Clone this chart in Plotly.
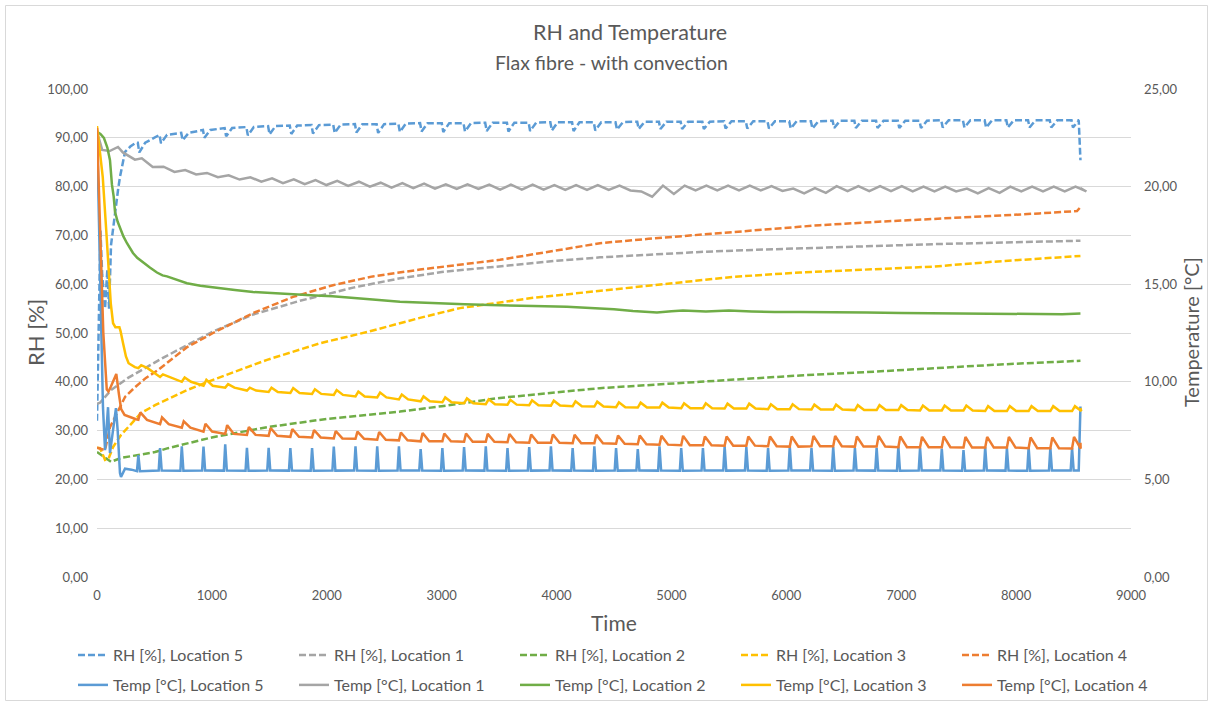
import plotly.graph_objects as go

# ---- RH series (left axis, %) : smooth curves -------------------------------
rh1_t = [0, 26, 122, 270, 418, 574, 783, 1010, 1360, 1767, 2230, 2637, 3000, 3507,
         4000, 4378, 4800, 5248, 5800, 6292, 6800, 7276, 7800, 8200, 8560]
rh1_v = [35.5, 35.7, 38.3, 40.8, 42.8, 44.9, 47.5, 50.3, 53.8, 56.6, 59.3, 61.2, 62.5, 63.7,
         64.8, 65.5, 66.1, 66.6, 67.1, 67.5, 67.9, 68.2, 68.5, 68.7, 68.9]

rh2_t = [0, 96, 122, 209, 357, 505, 618, 1000, 1480, 2000, 2637, 3000, 3507, 4378,
         5248, 6118, 6700, 7276, 7900, 8560]
rh2_v = [25.6, 24.0, 23.6, 24.4, 25.0, 25.6, 26.4, 28.6, 30.7, 32.4, 33.9, 35.0, 36.7, 38.7,
         40.0, 41.3, 42.0, 42.8, 43.6, 44.3]

rh3_t = [0, 26, 70, 100, 139, 209, 287, 383, 505, 600, 783, 1010, 1480, 1941, 2350,
         2811, 3159, 3795, 4665, 5535, 6118, 7000, 7276, 7800, 8300, 8560]
rh3_v = [26.5, 26.4, 24.0, 24.2, 26.6, 29.1, 31.1, 33.6, 35.2, 36.3, 38.3, 40.4, 44.5, 47.9, 50.2,
         53.1, 55.1, 57.2, 59.4, 61.5, 62.4, 63.3, 63.6, 64.6, 65.3, 65.8]

rh4_t = [0, 40, 70, 113, 183, 244, 331, 426, 531, 609, 783, 1010, 1360, 1706, 2054,
         2400, 2811, 3507, 4000, 4378, 4800, 5248, 5800, 6292, 6800, 7276, 7800,
         8200, 8440, 8530, 8560]
rh4_v = [26.5, 26.2, 26.0, 30.7, 34.2, 36.9, 38.9, 40.8, 42.4, 43.8, 47.1, 50.0, 54.1, 57.4, 59.8,
         61.6, 63.0, 65.0, 66.9, 68.4, 69.3, 70.1, 71.2, 72.1, 72.8, 73.3, 74.0,
         74.5, 74.8, 75.0, 75.8]

# ---- convection cycles: time of each heating pulse --------------------------
cycle_t = [360, 549, 738, 927, 1116, 1305, 1494, 1683, 1872, 2061, 2250,
           2439, 2628, 2817, 3006, 3195, 3384, 3573, 3762, 3951, 4140, 4329,
           4518, 4707, 4896, 5085, 5274, 5463, 5652, 5841, 6030, 6219, 6408,
           6597, 6786, 6975, 7164, 7353, 7542, 7731, 7920, 8109, 8298, 8487]

# RH location 5: start-up, level before each pulse, dip value in each pulse, end
rh5_head_t = [0, 10, 18, 30, 45, 70, 90, 105, 122, 157, 183, 200, 215, 244, 290, 340]
rh5_head_v = [32.0, 46.0, 62.0, 71.0, 62.0, 55.0, 63.0, 55.0, 68.0, 75.0, 79.3, 82.0, 84.0,
              87.1, 88.2, 89.0]
rh5_base = [89.0, 90.6, 91.0, 91.6, 92.0, 92.2, 92.4, 92.5, 92.6, 92.7, 92.8,
            92.8, 92.9, 93.0, 93.0, 93.0, 93.1, 93.1, 93.1, 93.2, 93.2, 93.2,
            93.2, 93.3, 93.3, 93.3, 93.3, 93.4, 93.4, 93.4, 93.4, 93.4, 93.5,
            93.5, 93.5, 93.5, 93.5, 93.6, 93.6, 93.6, 93.6, 93.6, 93.6, 93.6]
rh5_dip = [87.0, 88.9, 89.5, 90.0, 90.3, 90.5, 90.7, 90.8, 90.9, 91.0, 91.1,
           91.0, 91.2, 91.3, 91.2, 91.3, 91.4, 91.3, 91.4, 91.5, 91.4, 91.5,
           91.7, 91.8, 91.8, 91.8, 91.8, 91.9, 91.9, 91.9, 91.9, 91.9, 92.0,
           92.0, 92.0, 92.0, 92.0, 92.1, 92.1, 92.1, 92.1, 92.1, 92.1, 92.1]
rh5_tail_t = [8545, 8560]
rh5_tail_v = [93.6, 85.4]

# ---- temperature series (right axis, deg C) ----------------------------------
temp5_head_t = [0, 20, 40, 52, 70, 96, 113, 139, 165, 180, 200, 209, 244, 300, 330]
temp5_head_v = [22.9, 17.0, 11.5, 8.7, 6.5, 8.7, 6.35, 7.5, 8.65, 7.5, 5.33, 5.13, 5.55,
                5.5, 5.45]
temp5_base = [5.42, 5.45, 5.44, 5.46, 5.45, 5.44, 5.46, 5.45, 5.44, 5.45, 5.46,
              5.44, 5.45, 5.45, 5.44, 5.46, 5.45, 5.44, 5.45, 5.46, 5.45, 5.44,
              5.45, 5.46, 5.45, 5.44, 5.45, 5.45, 5.46, 5.44, 5.45, 5.45, 5.44,
              5.46, 5.45, 5.44, 5.45, 5.45, 5.44, 5.46, 5.45, 5.44, 5.45, 5.45]
temp5_peak = [6.25, 6.60, 6.70, 6.68, 6.80, 6.62, 6.62, 6.60, 6.60, 6.68, 6.70,
              6.70, 6.70, 6.55, 6.60, 6.65, 6.70, 6.60, 6.65, 6.70, 6.60, 6.70,
              6.60, 6.55, 6.70, 6.60, 6.60, 6.70, 6.65, 6.60, 6.70, 6.60, 6.65,
              6.60, 6.62, 6.70, 6.60, 6.58, 6.50, 6.65, 6.60, 6.65, 6.62, 6.60]
temp5_tail_t = [8545, 8560]
temp5_tail_v = [5.45, 8.73]

temp1_head_t = [0, 25, 45, 110, 183, 225, 261, 300, 330]
temp1_head_v = [22.8, 22.2, 21.88, 21.82, 22.03, 21.75, 21.62, 21.45, 21.38]
temp1_hi = [21.45, 21.02, 20.85, 20.70, 20.58, 20.48, 20.42, 20.37, 20.33, 20.29, 20.25,
            20.20, 20.18, 20.15, 20.12, 20.12, 20.10, 20.10, 20.10, 20.08, 20.08, 20.08,
            20.05, 19.75, 20.05, 20.05, 20.05, 20.05, 20.05, 20.02, 19.90, 19.92, 20.02,
            20.02, 20.02, 20.02, 20.00, 20.00, 19.90, 19.92, 20.00, 20.00, 20.00, 20.00]
temp1_lo = [21.00, 20.75, 20.62, 20.48, 20.36, 20.25, 20.18, 20.12, 20.08, 20.04, 20.00,
            19.95, 19.92, 19.90, 19.88, 19.88, 19.85, 19.85, 19.85, 19.83, 19.83, 19.83,
            19.80, 19.48, 19.62, 19.80, 19.80, 19.80, 19.80, 19.78, 19.65, 19.68, 19.77,
            19.77, 19.77, 19.75, 19.75, 19.75, 19.65, 19.68, 19.75, 19.75, 19.75, 19.75]
temp1_tail_t = [8560]
temp1_tail_v = [19.92]

temp2_t = [0, 30, 60, 90, 113, 130, 145, 157, 180, 200, 230, 261, 290, 313, 350, 400, 460,
           522, 570, 609, 700, 783, 900, 1044, 1200, 1358, 1500, 1650, 1767, 1900, 2050,
           2202, 2400, 2637, 2811, 3000, 3200, 3420, 3600, 3800, 4090, 4300, 4500, 4665,
           4874, 5000, 5100, 5300, 5500, 5700, 5900, 6118, 6400, 6700, 7000, 7300, 7600,
           7900, 8200, 8400, 8560]
temp2_v = [22.80, 22.70, 22.50, 22.0, 21.35, 20.1, 19.5, 18.7, 18.2, 17.9, 17.45, 17.1,
           16.8, 16.6, 16.35, 16.1, 15.85, 15.6, 15.45, 15.4, 15.2, 15.05, 14.92, 14.8,
           14.7, 14.6, 14.55, 14.48, 14.45, 14.42, 14.38, 14.32, 14.22, 14.1, 14.05, 14.02,
           13.97, 13.93, 13.92, 13.88, 13.85, 13.8, 13.72, 13.63, 13.55, 13.62, 13.65, 13.6,
           13.65, 13.6, 13.57, 13.58, 13.55, 13.55, 13.53, 13.52, 13.5, 13.48, 13.47, 13.46,
           13.5]

temp3_head_t = [0, 50, 80, 100, 120, 140, 160, 195, 205, 226, 252, 275, 330]
temp3_head_v = [23.1, 20.5, 17.8, 15.8, 14.0, 13.0, 12.8, 12.8, 12.6, 12.0, 11.3, 10.95, 10.75]
temp3_base = [10.70, 10.25, 10.00, 9.80, 9.70, 9.55, 9.48, 9.43, 9.38, 9.33, 9.25,
              9.20, 9.10, 9.00, 8.95, 8.90, 8.85, 8.83, 8.80, 8.78, 8.75, 8.73,
              8.70, 8.68, 8.68, 8.65, 8.65, 8.63, 8.63, 8.60, 8.60, 8.58, 8.58,
              8.55, 8.55, 8.55, 8.53, 8.53, 8.53, 8.50, 8.50, 8.50, 8.50, 8.50]
temp3_peak = [10.85, 10.38, 10.22, 10.10, 9.88, 9.70, 9.70, 9.68, 9.62, 9.58, 9.50,
              9.45, 9.35, 9.25, 9.20, 9.15, 9.10, 9.08, 9.05, 9.03, 9.00, 8.98,
              8.95, 8.93, 8.93, 8.90, 8.90, 8.88, 8.88, 8.85, 8.85, 8.83, 8.83,
              8.80, 8.80, 8.80, 8.78, 8.78, 8.78, 8.75, 8.75, 8.75, 8.75, 8.75]
temp3_tail_t = [8560]
temp3_tail_v = [8.65]

temp4_head_t = [0, 25, 55, 85, 100, 120, 168, 190, 210, 240, 300, 340]
temp4_head_v = [23.0, 18.0, 12.5, 9.6, 9.5, 9.75, 10.4, 9.4, 8.6, 8.3, 8.15, 8.08]
temp4_base = [8.05, 7.83, 7.65, 7.45, 7.33, 7.28, 7.23, 7.18, 7.15, 7.10, 7.08,
              7.03, 7.00, 6.95, 6.95, 6.93, 6.93, 6.90, 6.88, 6.88, 6.85, 6.85,
              6.83, 6.80, 6.78, 6.75, 6.75, 6.73, 6.73, 6.70, 6.68, 6.70, 6.70,
              6.68, 6.68, 6.65, 6.65, 6.65, 6.63, 6.63, 6.63, 6.60, 6.60, 6.58]
temp4_peak = [8.43, 8.18, 7.98, 7.85, 7.78, 7.68, 7.63, 7.58, 7.53, 7.48, 7.45,
              7.43, 7.40, 7.38, 7.35, 7.35, 7.33, 7.33, 7.30, 7.30, 7.28, 7.28,
              7.25, 7.25, 7.23, 7.23, 7.20, 7.20, 7.20, 7.20, 7.20, 7.23, 7.23,
              7.20, 7.23, 7.20, 7.18, 7.20, 7.18, 7.18, 7.18, 7.15, 7.15, 7.18]
temp4_tail_t = [8560]
temp4_tail_v = [6.88]

x_ticks = list(range(0, 9001, 1000))

COLORS = {"5": "#5B9BD5", "1": "#A5A5A5", "2": "#70AD47", "3": "#FFC000", "4": "#ED7D31"}
TEXT = "#595959"
GRID = "#D9D9D9"
FONT = "Lato"


def pulsed(head_t, head_v, levels, offsets, tail_t, tail_v):
    """Polyline: start-up samples, then per-cycle samples placed around each pulse."""
    xs, ys = list(head_t), list(head_v)
    for i, t0 in enumerate(cycle_t):
        for off, lev in zip(offsets, levels):
            xs.append(t0 + off)
            ys.append(lev[i])
    return xs + list(tail_t), ys + list(tail_v)


series = []
# RH traces, legend row 1
series.append(("RH [%], Location 5", *pulsed(rh5_head_t, rh5_head_v,
               [rh5_base, rh5_dip, rh5_base], [-5, 8, 60], rh5_tail_t, rh5_tail_v), "5", "y", "legend"))
series.append(("RH [%], Location 1", rh1_t, rh1_v, "1", "y", "legend"))
series.append(("RH [%], Location 2", rh2_t, rh2_v, "2", "y", "legend"))
series.append(("RH [%], Location 3", rh3_t, rh3_v, "3", "y", "legend"))
series.append(("RH [%], Location 4", rh4_t, rh4_v, "4", "y", "legend"))
# temperature traces, legend row 2
series.append(("Temp [°C], Location 5", *pulsed(temp5_head_t, temp5_head_v,
               [temp5_base, temp5_peak, temp5_base], [-12, 0, 14], temp5_tail_t, temp5_tail_v),
               "5", "y2", "legend2"))
series.append(("Temp [°C], Location 1", *pulsed(temp1_head_t, temp1_head_v,
               [temp1_hi, temp1_lo], [30, 125], temp1_tail_t, temp1_tail_v),
               "1", "y2", "legend2"))
series.append(("Temp [°C], Location 2", temp2_t, temp2_v, "2", "y2", "legend2"))
series.append(("Temp [°C], Location 3", *pulsed(temp3_head_t, temp3_head_v,
               [temp3_base, temp3_peak, temp3_base], [0, 25, 80], temp3_tail_t, temp3_tail_v),
               "3", "y2", "legend2"))
series.append(("Temp [°C], Location 4", *pulsed(temp4_head_t, temp4_head_v,
               [temp4_base, temp4_peak, temp4_base], [0, 17, 75], temp4_tail_t, temp4_tail_v),
               "4", "y2", "legend2"))

fig = go.Figure()
for name, xs, ys, loc, yax, leg in series:
    dashed = yax == "y"
    fig.add_trace(go.Scatter(
        x=xs, y=ys, name=name, mode="lines", yaxis=yax, legend=leg,
        line=dict(color=COLORS[loc], width=2.5, dash="7px,3px" if dashed else "solid"),
        hoverinfo="x+y+name",
    ))

W, H = 1213, 706
L, R, T, B = 97, 82, 89, 129
PW, PH = W - L - R, H - T - B


def px_x(px):
    return (px - L) / PW


def px_y(py):
    return (H - B - py) / PH


legend_common = dict(
    orientation="h", xanchor="left", yanchor="middle", x=px_x(73),
    entrywidth=176, entrywidthmode="pixels", itemwidth=30,
    font=dict(family=FONT, size=16, color=TEXT), bgcolor="rgba(0,0,0,0)",
    traceorder="normal",
)

tick_font = dict(family=FONT, size=13, color=TEXT)
title_font = dict(family=FONT, size=21, color=TEXT)

fig.update_layout(
    width=W, height=H,
    margin=dict(l=L, r=R, t=T, b=B, autoexpand=False),
    paper_bgcolor="white", plot_bgcolor="white",
    separators=",.",
    font=dict(family=FONT, color=TEXT),
    showlegend=True,
    legend=dict(**legend_common, y=px_y(655)),
    legend2=dict(**legend_common, y=px_y(685)),
    xaxis=dict(
        range=[0, 9000], tickvals=x_ticks, ticktext=[str(v) for v in x_ticks],
        showgrid=False, zeroline=False, showline=False, ticks="",
        tickfont=tick_font, ticklabelstandoff=9,
    ),
    yaxis=dict(
        range=[0, 100], dtick=10, tickformat=".2f",
        showgrid=True, gridcolor=GRID, gridwidth=1, zeroline=False, showline=False, ticks="",
        tickfont=tick_font, ticklabelstandoff=8,
    ),
    yaxis2=dict(
        range=[0, 25], dtick=5, tickformat=".2f", overlaying="y", side="right",
        showgrid=False, zeroline=False, showline=False, ticks="",
        tickfont=tick_font, ticklabelstandoff=12,
    ),
    annotations=[
        dict(text="RH and Temperature", xref="paper", yref="paper", x=px_x(630), y=px_y(32),
             xanchor="center", yanchor="middle", showarrow=False,
             font=dict(family=FONT, size=21.5, color=TEXT)),
        dict(text="Flax fibre - with convection", xref="paper", yref="paper", x=px_x(611), y=px_y(62),
             xanchor="center", yanchor="middle", showarrow=False,
             font=dict(family=FONT, size=19.5, color=TEXT)),
        # axis titles
        dict(text="RH [%]", xref="paper", yref="paper", x=px_x(35), y=px_y(333),
             xanchor="center", yanchor="middle", textangle=-90, showarrow=False,
             font=dict(family=FONT, size=22, color=TEXT)),
        dict(text="Temperature [°C]", xref="paper", yref="paper", x=px_x(1191), y=px_y(332),
             xanchor="center", yanchor="middle", textangle=-90, showarrow=False,
             font=dict(family=FONT, size=20, color=TEXT)),
        dict(text="Time", xref="paper", yref="paper", x=px_x(614), y=px_y(622),
             xanchor="center", yanchor="middle", showarrow=False, font=title_font),
    ],
    shapes=[
        dict(type="rect", xref="paper", yref="paper",
             x0=px_x(5.5), x1=px_x(1207.5), y0=px_y(700.5), y1=px_y(5.5),
             line=dict(color=GRID, width=1), fillcolor="rgba(0,0,0,0)", layer="below"),
    ],
)

fig.write_html("out.html")
